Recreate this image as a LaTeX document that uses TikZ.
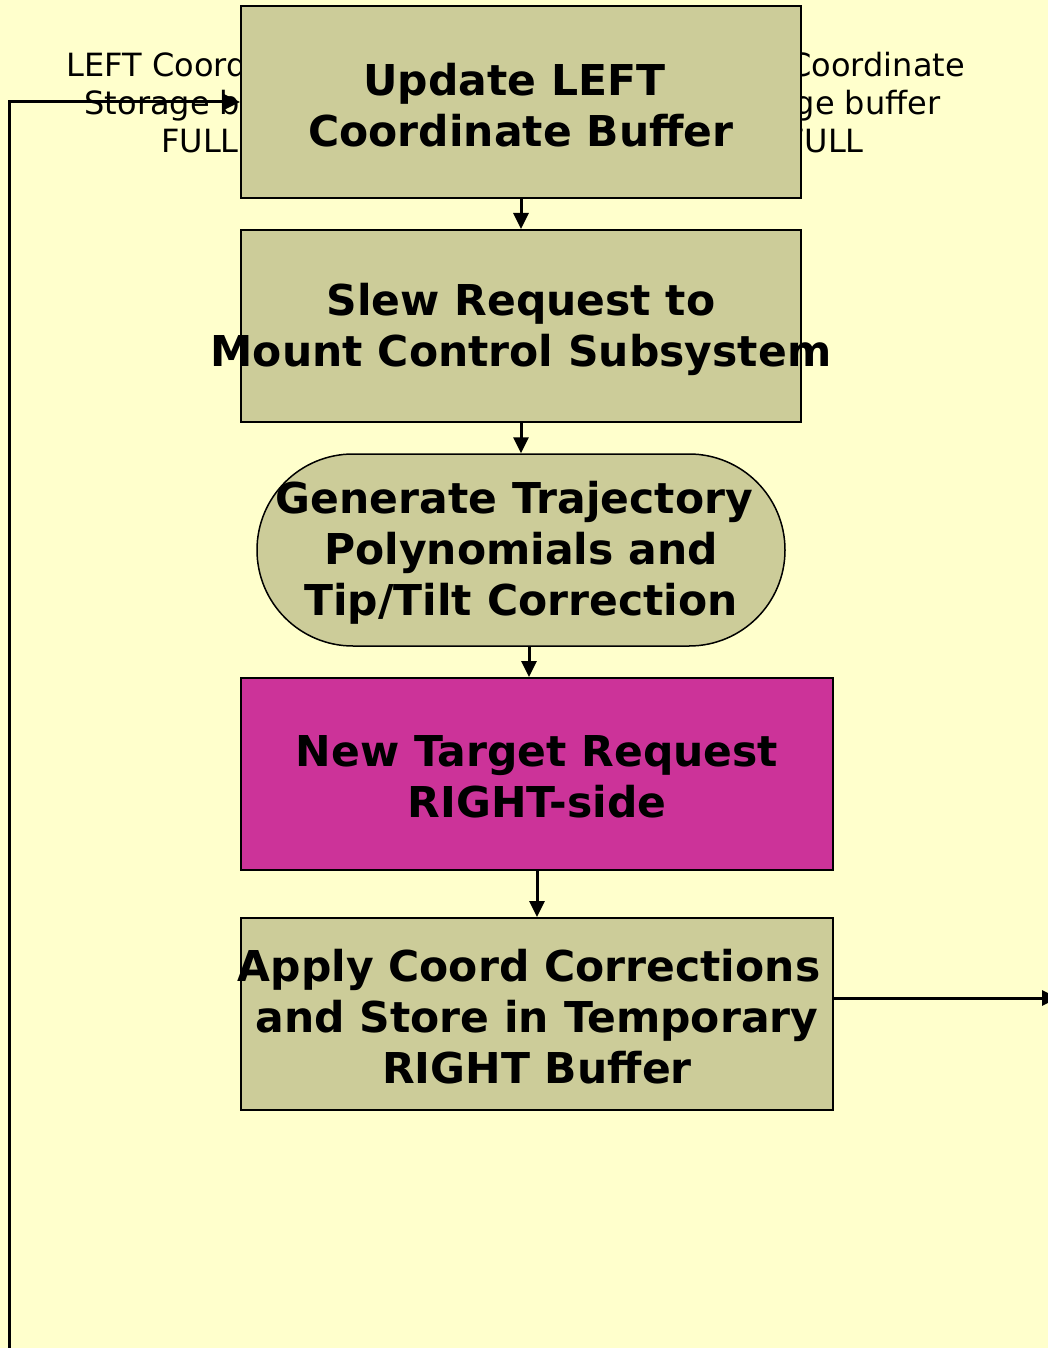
\documentclass[tikz,border=0pt]{standalone}
\usepackage{fontspec}
\setmainfont{DejaVu Sans}
\usetikzlibrary{arrows.meta,shapes.misc}
\definecolor{paper}{RGB}{255,255,204}
\definecolor{olivebox}{RGB}{204,204,153}
\definecolor{magentabox}{RGB}{204,51,153}
\tikzset{
  stepbox/.style={draw=black,line width=2pt,fill=olivebox,minimum width=560pt,minimum height=192pt,inner sep=0pt},
  widebox/.style={stepbox,minimum width=592pt},
  pillbox/.style={draw=black,line width=1.5pt,fill=olivebox,rounded rectangle,minimum width=528pt,minimum height=192pt,inner sep=0pt},
  boxtext/.style={align=center,inner sep=0pt,yshift=-3pt,font=\fontsize{42.5}{51}\selectfont\bfseries},
  sidetext/.style={align=center,inner sep=0pt,font=\fontsize{32}{38}\selectfont},
  conn/.style={line width=3pt,-{Triangle[length=16pt,width=15pt]}}
}
% trailing gap that nudges a centred line to the left
\newcommand{\lnudge}[1]{\hspace*{#1}}
\begin{document}
\begin{tikzpicture}[x=1pt,y=-1pt]
  % page and background
  \useasboundingbox (0,0) rectangle (1048,1348);
  \fill[paper] (0,0) rectangle (1048,1348);

  % buffer status notes, partly covered by the first box
  \node[sidetext] (leftnote) at (200,103) {LEFT Coordinate\lnudge{6pt}\\Storage buffer\\FULL};
  \node[sidetext] (rightnote) at (825,103) {RIGHT Coordinate\lnudge{6pt}\\Storage buffer\\FULL};

  % loop-back line and exit line end points
  \coordinate (loopstart) at (9,1352);
  \coordinate (exit) at (1058,998);

  % process steps
  \node[stepbox] (upd) at (521,102) {};
  \node[stepbox] (slew) at (521,326) {};
  \node[pillbox] (traj) at (521,550) {};
  \node[widebox,fill=magentabox] (newt) at (537,774) {};
  \node[widebox] (apply) at (537,1014) {};

  \node[boxtext] (updt) at (upd) {Update LEFT\lnudge{13pt}\\Coordinate Buffer};
  \node[boxtext] (slewt) at (slew) {Slew Request to\\Mount Control Subsystem};
  \node[boxtext] (trajt) at (traj) {Generate Trajectory\lnudge{13pt}\\Polynomials and\\Tip/Tilt Correction};
  \node[boxtext] (newtt) at (newt) {New Target Request\\RIGHT-side};
  \node[boxtext] (applyt) at (apply) {Apply Coord Corrections\lnudge{16pt}\\and Store in Temporary\lnudge{13pt}\\RIGHT Buffer};

  % connectors
  \draw[conn] (upd.south) -- (slew.north);
  \draw[conn] (slew.south) -- (traj.north);
  \draw[conn] ([xshift=8pt]traj.south) -- ([xshift=8pt]traj.south |- newt.north);
  \draw[conn] (newt.south) -- (apply.north);
  \draw[conn] (exit -| apply.east) -- (exit);
  \draw[conn] (loopstart) |- (upd.west);
\end{tikzpicture}
\end{document}
